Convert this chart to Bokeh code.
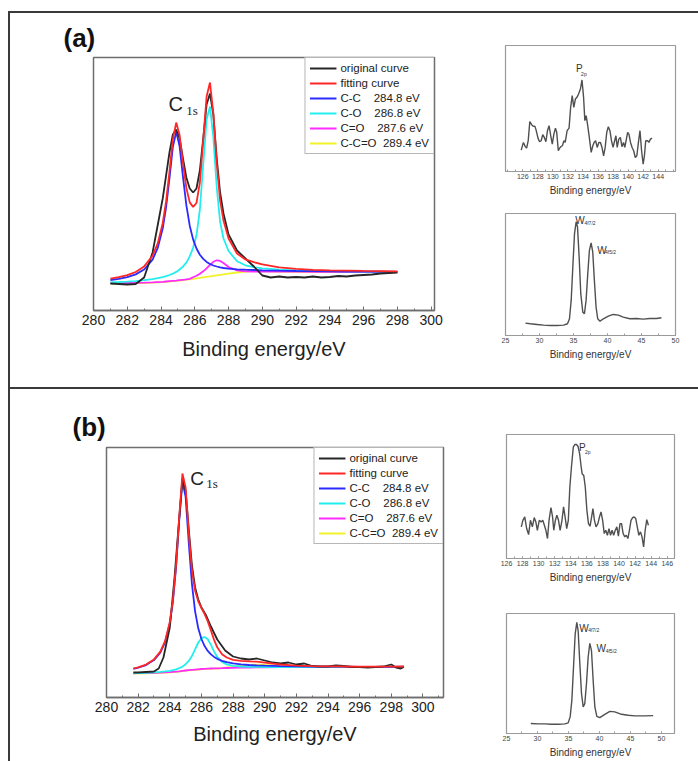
from bokeh.plotting import figure
from bokeh.models import Label, Legend, LegendItem, SingleIntervalTicker, FixedTicker, Range1d, Spacer
from bokeh.layouts import row, column
from bokeh.embed import file_html
from bokeh.resources import INLINE

FONT = "Liberation Sans"
SERIF = "Liberation Serif"

# ---------------- Panel (a): C1s fit ----------------
a_x = [281.0, 281.5, 282.0, 282.5, 283.0, 283.5, 283.8, 284.1, 284.3, 284.5, 284.7, 284.9, 285.1,
       285.3, 285.5, 285.7, 285.9, 286.1, 286.3, 286.5, 286.7, 286.9, 287.1, 287.3, 287.5, 287.7,
       288.0, 288.5, 289.0, 289.5, 290.0, 291.0, 292.0, 293.0, 294.0, 295.0, 296.0, 297.0, 298.0]
a_fit = [31.9, 33.3, 35.3, 38.5, 44.1, 54.8, 66.8, 87.3, 109.1, 139.0, 171.2, 187.9, 175.4, 147.4,
         122.6, 108.1, 103.6, 107.5, 127.8, 170.6, 214.0, 228.0, 197.0, 147.0, 110.1, 90.0, 71.9,
         57.0, 51.1, 48.3, 46.1, 43.2, 41.6, 40.6, 40.2, 39.9, 39.6, 39.4, 39.2]
a_cc = [30.4, 31.6, 33.3, 36.1, 41.0, 50.9, 62.3, 82.0, 103.2, 132.2, 163.4, 178.6, 164.1, 133.6,
        105.3, 84.8, 71.1, 62.0, 55.8, 51.6, 48.6, 46.5, 45.0, 44.0, 43.1, 42.5, 41.9, 41.2, 40.8,
        40.5, 40.2, 39.8, 39.5, 39.3, 39.1, 39.0, 38.9, 38.8, 38.7]
a_co = [28.2, 28.5, 28.9, 29.4, 30.3, 31.4, 32.3, 33.4, 34.3, 35.5, 36.8, 38.6, 41.0, 43.9, 47.8,
        54.2, 62.7, 75.2, 100.7, 146.2, 191.0, 204.0, 172.7, 123.2, 88.6, 72.0, 59.5, 49.2, 45.2,
        43.3, 42.2, 40.9, 40.1, 39.6, 39.3, 39.1, 38.9, 38.8, 38.7]
a_c_eq_o = [27.3, 27.4, 27.5, 27.6, 27.8, 28.1, 28.4, 28.7, 29.0, 29.3, 29.6, 29.9, 30.3, 30.7, 31.1,
            31.6, 33.2, 34.7, 36.7, 39.2, 42.2, 45.7, 48.7, 50.2, 49.6, 47.5, 43.5, 40.2, 39.2, 39.0,
            38.9, 38.8, 38.8, 38.7, 38.7, 38.7, 38.7, 38.7, 38.7]
a_cc_eq_o = [27.0, 27.1, 27.2, 27.3, 27.5, 27.8, 28.1, 28.4, 28.7, 29.0, 29.3, 29.6, 30.0, 30.4, 30.8,
             31.2, 31.7, 32.2, 32.7, 33.2, 33.7, 34.2, 34.7, 35.2, 35.7, 36.2, 36.9, 38.0, 39.0, 39.5,
             39.4, 38.9, 38.7, 38.5, 38.5, 38.5, 38.5, 38.5, 38.5]
a_orig_x = [281.0, 281.5, 282.0, 282.5, 283.0, 283.5, 283.8, 284.1, 284.3, 284.5, 284.7, 284.9, 285.1,
            285.3, 285.5, 285.7, 285.9, 286.1, 286.3, 286.5, 286.7, 286.9, 287.1, 287.3, 287.5, 287.7,
            288.0, 288.5, 289.0, 289.5, 290.0, 290.5, 291.0, 291.5, 292.0, 292.5, 293.0, 293.5, 294.0,
            294.5, 295.0, 295.5, 296.0, 296.5, 297.0, 297.5, 298.0]
a_orig = [27.0, 26.5, 26.0, 26.5, 33.0, 58.0, 85.0, 112.0, 135.0, 158.0, 176.0, 181.0, 172.0, 152.0,
          133.0, 122.0, 118.0, 122.0, 140.0, 172.0, 206.0, 217.0, 196.0, 152.0, 118.0, 97.0, 76.0,
          60.0, 52.0, 44.0, 35.0, 33.0, 34.0, 33.0, 33.5, 33.0, 34.0, 33.0, 33.5, 34.5, 34.0, 35.0,
          35.5, 36.0, 37.0, 37.5, 38.0]

# P2p (a)
a_p_x = [125.79, 126.08, 126.34, 126.51, 126.72, 126.93, 127.18, 127.39, 127.6, 127.77, 128.02, 128.23,
         128.44, 128.65, 128.86, 129.07, 129.28, 129.49, 129.71, 129.92, 130.13, 130.34, 130.51, 130.72,
         130.88, 131.05, 131.26, 131.47, 131.64, 131.89, 132.15, 132.36, 132.57, 132.78, 132.99, 133.2,
         133.41, 133.66, 133.87, 134.08, 134.25, 134.42, 134.63, 134.84, 135.09, 135.31, 135.47, 135.68,
         135.89, 136.11, 136.32, 136.53, 136.74, 136.95, 137.16, 137.37, 137.58, 137.79, 138.0, 138.21,
         138.38, 138.55, 138.76, 138.97, 139.18, 139.39, 139.56, 139.73, 139.94, 140.11, 140.32, 140.53,
         140.74, 140.95, 141.16, 141.37, 141.58, 141.79, 142.0, 142.17, 142.34, 142.59, 142.76, 142.97,
         143.18]
a_p_y = [21.3, 29, 24.7, 23.3, 30.7, 49.7, 46.7, 45, 45.3, 41.3, 33.3, 29.7, 30.7, 36.7, 34, 29.7, 40.7,
         45.7, 35.7, 27.3, 37.3, 43.3, 39, 20.7, 23, 24.7, 25.7, 30.7, 29, 40.7, 43.3, 64, 75.7, 64, 72.3,
         74, 77.3, 82.3, 91.3, 74, 50.7, 55.7, 45.7, 34, 19, 25.7, 29, 30.7, 24, 29, 29, 24, 15.7, 24, 39,
         44.7, 40.7, 30.7, 24, 30.7, 35.7, 24, 32.3, 34, 24.7, 29, 24, 30.7, 39, 37.3, 29, 24, 20.7, 14,
         15.7, 29, 40.7, 20.7, 7.3, 15.7, 30.7, 30.7, 29, 32.3, 33.3]
a_p_ticks = [126, 128, 130, 132, 134, 136, 138, 140, 142, 144]

# W4f (a)
a_w_x = [27.93, 28.66, 29.63, 30.61, 31.59, 32.56, 33.54, 34.12, 34.41, 34.66, 34.9, 35.15, 35.39, 35.59,
         35.83, 36.07, 36.37, 36.61, 36.85, 37.1, 37.34, 37.59, 37.83, 38.07, 38.32, 38.56, 38.9, 39.39,
         40.12, 40.85, 41.59, 42.32, 43.29, 44.27, 45.24, 46.22, 47.2, 47.93]
a_w_y = [12.3, 11.7, 11, 10.3, 10, 10, 10.3, 11.7, 16.7, 35, 68.3, 101.7, 113.3, 108.3, 78.3, 41.7, 23.3,
         21.7, 35, 61.7, 85, 92.3, 83.3, 55, 28.3, 16.7, 14.3, 16.7, 19.3, 21, 20.3, 18.3, 16.7, 17, 16.3,
         17, 17, 17.7]

# ---------------- Panel (b): C1s fit ----------------
b_x = [281.7, 282.0, 282.5, 283.0, 283.4, 283.7, 284.0, 284.2, 284.4, 284.6, 284.8, 285.0, 285.2,
       285.4, 285.6, 285.8, 286.0, 286.2, 286.4, 286.6, 286.8, 287.0, 287.3, 287.6, 288.0, 288.5,
       289.0, 289.5, 290.0, 291.0, 292.0, 293.0, 294.0, 295.0, 296.0, 297.0, 298.0, 298.8]
b_fit = [29.0, 30.2, 32.9, 38.1, 45.9, 56.3, 75.5, 98.0, 133.2, 181.3, 224.0, 210.0, 164.1, 127.4,
         106.7, 96.2, 89.5, 83.4, 76.1, 67.1, 57.6, 50.2, 43.2, 40.0, 37.7, 36.7, 36.2, 35.8, 34.9,
         33.0, 31.9, 31.4, 31.1, 31.0, 30.9, 30.9, 30.9, 31.0]
b_cc = [28.7, 29.8, 32.4, 37.4, 44.9, 55.1, 73.9, 96.0, 130.7, 178.0, 216.0, 200.8, 154.6, 113.4,
        86.2, 69.2, 58.5, 51.4, 46.6, 43.1, 40.6, 38.7, 36.7, 35.3, 34.1, 33.1, 32.5, 32.1, 31.8,
        31.3, 31.1, 30.9, 30.9, 30.8, 30.7, 30.7, 30.7, 30.8]
b_co = [24.3, 24.45, 24.7, 25.2, 25.7, 26.1, 26.7, 27.4, 28.2, 29.3, 30.9, 33.3, 36.6, 41.4, 48.2,
        55.0, 59.3, 60.5, 58.2, 52.8, 45.9, 40.5, 35.6, 33.1, 31.7, 31.0, 30.7, 30.6, 30.5, 30.4,
        30.3, 30.3, 30.3, 30.3, 30.3, 30.4, 30.4, 30.5]
b_c_eq_o = [24.2, 24.3, 24.4, 24.7, 24.9, 25.1, 25.3, 25.6, 25.9, 26.2, 26.6, 27.0, 27.3, 27.6, 27.9,
            28.2, 28.5, 28.7, 28.9, 29.0, 29.1, 29.2, 29.3, 29.5, 29.7, 29.9, 30.0, 30.1, 30.2, 30.3,
            30.4, 30.4, 30.5, 30.5, 30.6, 30.6, 30.7, 30.7]
b_cc_eq_o = [24.0, 24.1, 24.2, 24.5, 24.7, 24.9, 25.1, 25.4, 25.7, 26.0, 26.4, 26.8, 27.1, 27.4, 27.7,
             28.0, 28.3, 28.5, 28.7, 28.8, 28.9, 29.0, 29.3, 30.0, 30.7, 31.8, 32.6, 32.9, 32.6, 31.3,
             30.7, 30.4, 30.3, 30.3, 30.4, 30.4, 30.5, 30.5]
b_orig_x = [281.7, 282.0, 282.5, 283.0, 283.3, 283.6, 284.0, 284.3, 284.6, 284.8, 285.0, 285.2, 285.4,
            285.6, 285.8, 286.0, 286.3, 286.6, 287.0, 287.5, 288.0, 288.5, 289.0, 289.5, 290.0, 290.5,
            291.0, 291.5, 292.0, 292.5, 293.0, 293.5, 294.0, 294.5, 295.0, 295.5, 296.0, 296.5, 297.0,
            297.5, 298.0, 298.3, 298.6, 298.8]
b_orig = [25.0, 25.0, 25.5, 26.0, 29.0, 40.0, 70.0, 120.0, 180.0, 219.0, 207.0, 168.0, 132.0, 110.0,
          98.0, 90.0, 82.0, 71.0, 58.0, 47.0, 41.0, 39.0, 38.0, 39.0, 37.0, 35.0, 34.0, 35.0, 33.0,
          34.0, 31.5, 31.0, 31.0, 32.0, 31.5, 30.5, 30.5, 30.0, 30.5, 31.0, 33.0, 30.0, 29.0, 30.5]

# P2p (b)
b_p_x = [127.84, 128.04, 128.27, 128.51, 128.75, 128.98, 129.22, 129.45, 129.65, 129.84, 130.08, 130.31,
         130.51, 130.71, 130.9, 131.1, 131.29, 131.53, 131.73, 131.88, 132.08, 132.27, 132.47, 132.67,
         132.9, 133.1, 133.29, 133.49, 133.69, 133.88, 134.08, 134.31, 134.51, 134.71, 134.9, 135.1,
         135.29, 135.41, 135.61, 135.8, 136.0, 136.2, 136.39, 136.59, 136.75, 136.94, 137.14, 137.37,
         137.57, 137.76, 137.96, 138.16, 138.35, 138.55, 138.75, 138.94, 139.14, 139.33, 139.53, 139.73,
         139.92, 140.12, 140.31, 140.51, 140.71, 140.9, 141.1, 141.29, 141.49, 141.69, 141.88, 142.08,
         142.27, 142.47, 142.67, 142.86, 143.06, 143.25, 143.45, 143.65]
b_p_y = [31.7, 38.3, 41.7, 30, 24, 38.3, 31.7, 41, 36.7, 28.3, 38.3, 36.7, 38.3, 33.3, 28.3, 20, 38.3, 51,
         41.7, 28.3, 38.3, 43.3, 38.3, 28.3, 38.3, 51.7, 41.7, 30, 38.3, 71.7, 91.7, 111.7, 114.3, 114.3,
         112.3, 105, 91.7, 85, 83.3, 71.7, 48.3, 35, 32.3, 41.7, 50, 38.3, 31.7, 35, 41.7, 46.7, 38.3, 25,
         28.3, 23.3, 30, 23.3, 28.3, 23.3, 28.3, 31.7, 22.3, 35, 35, 25, 21.7, 23.3, 20, 28.3, 38.3, 41,
         41.7, 40, 31.7, 23.3, 26.7, 21.7, 11.7, 28.3, 39, 33.3]

# W4f (b)
b_w_x = [28.92, 30.11, 31.18, 32.26, 33.33, 34.41, 34.95, 35.27, 35.54, 35.81, 36.08, 36.34, 36.56, 36.83,
         37.1, 37.37, 37.63, 37.9, 38.17, 38.44, 38.71, 38.98, 39.25, 39.57, 40.05, 40.86, 41.67, 42.47,
         43.55, 44.62, 45.7, 47.31, 48.66]
b_w_y = [10, 9.7, 9.7, 9.3, 9.3, 9.7, 10.7, 16.7, 33.3, 66.7, 100, 111.7, 103.3, 70, 40, 26.7, 30, 50,
         76.7, 90.7, 83.3, 53.3, 26.7, 17.3, 16, 19.3, 22.3, 21.7, 19.3, 18.3, 17.7, 17.7, 18]

legend_labels = ["original curve", "fitting curve",
                 "C-C\u00a0\u00a0\u00a0\u00a0284.8 eV",
                 "C-O\u00a0\u00a0\u00a0\u00a0286.8 eV",
                 "C=O\u00a0\u00a0\u00a0\u00a0287.6 eV",
                 "C-C=O\u00a0\u00a0289.4 eV"]
curve_colors = ["#262626", "#ff2626", "#2b2bff", "#22eeee", "#ff2bff", "#f2f22a"]
AXIS_LABEL = "Binding energy/eV"


def main_panel(x0, x1, y1, w, h, bl, br, bt, bb, lab_standoff, tag, tag_offset, tag_standoff):
    p = figure(width=w, height=h, x_range=Range1d(x0, x1), y_range=Range1d(0, y1),
               output_backend="svg", toolbar_location=None, y_axis_location=None,
               min_border_left=bl, min_border_right=br, min_border_top=bt, min_border_bottom=bb)
    p.title.text = tag
    p.title.text_font = FONT
    p.title.text_font_size = "26px"
    p.title.text_font_style = "bold"
    p.title.text_color = "#111111"
    p.title.align = "left"
    p.title.offset = tag_offset
    p.title.standoff = tag_standoff
    p.xgrid.visible = False
    p.ygrid.visible = False
    p.outline_line_color = "#6e6e6e"
    p.outline_line_width = 1.5
    p.background_fill_color = "white"
    p.border_fill_color = "white"
    ax = p.xaxis[0]
    ax.ticker = SingleIntervalTicker(interval=2, num_minor_ticks=2)
    ax.major_tick_in = 4
    ax.major_tick_out = 0
    ax.minor_tick_in = 2
    ax.minor_tick_out = 0
    ax.axis_line_color = "#6e6e6e"
    ax.axis_line_width = 1.5
    ax.major_tick_line_color = "#6e6e6e"
    ax.minor_tick_line_color = "#6e6e6e"
    ax.major_label_text_font = FONT
    ax.major_label_text_font_size = "14px"
    ax.major_label_text_color = "#222222"
    ax.major_label_standoff = 4
    ax.axis_label = AXIS_LABEL
    ax.axis_label_text_font = FONT
    ax.axis_label_text_font_size = "20px"
    ax.axis_label_text_font_style = "normal"
    ax.axis_label_text_color = "#222222"
    ax.axis_label_standoff = lab_standoff
    return p


def add_curves(p, xs, orig_x, orig, fit, cc, co, ceo, cceo):
    r_y = p.line(xs, cceo, line_color=curve_colors[5], line_width=1.8)
    r_m = p.line(xs, ceo, line_color=curve_colors[4], line_width=1.8)
    r_c = p.line(xs, co, line_color=curve_colors[3], line_width=1.8)
    r_b = p.line(xs, cc, line_color=curve_colors[2], line_width=1.8)
    r_k = p.line(orig_x, orig, line_color=curve_colors[0], line_width=1.8)
    r_r = p.line(xs, fit, line_color=curve_colors[1], line_width=1.8)
    rends = [r_k, r_r, r_b, r_c, r_m, r_y]
    items = [LegendItem(label=lab, renderers=[r]) for lab, r in zip(legend_labels, rends)]
    leg = Legend(items=items, location="top_right", margin=0, padding=4, spacing=3,
                 label_height=12, glyph_height=12, glyph_width=27, label_standoff=4,
                 label_text_font=FONT, label_text_font_size="11.5px", label_text_color="#222222",
                 border_line_color="#6e6e6e", border_line_width=1.2, background_fill_alpha=1.0)
    p.add_layout(leg)


def small_panel(x0, x1, y1, ticker, w, h, bl, br, bt, bb):
    p = figure(width=w, height=h, x_range=Range1d(x0, x1), y_range=Range1d(0, y1),
               output_backend="svg", toolbar_location=None, y_axis_location=None,
               min_border_left=bl, min_border_right=br, min_border_top=bt, min_border_bottom=bb)
    p.xgrid.visible = False
    p.ygrid.visible = False
    p.outline_line_color = "#9a9a9a"
    p.outline_line_width = 1.2
    ax = p.xaxis[0]
    ax.ticker = ticker
    ax.major_tick_in = 2
    ax.major_tick_out = 0
    ax.minor_tick_in = 2
    ax.minor_tick_out = 0
    ax.axis_line_color = "#9a9a9a"
    ax.axis_line_width = 1.2
    ax.major_tick_line_color = "#9a9a9a"
    ax.minor_tick_line_color = "#9a9a9a"
    ax.major_label_text_font = FONT
    ax.major_label_text_font_size = "7px"
    ax.major_label_text_color = "#444444"
    ax.major_label_standoff = 2
    ax.axis_label = AXIS_LABEL
    ax.axis_label_text_font = FONT
    ax.axis_label_text_font_size = "10px"
    ax.axis_label_text_font_style = "normal"
    ax.axis_label_text_color = "#333333"
    ax.axis_label_standoff = 3
    return p


def lab(p, x, y, text, size, font=FONT, style="normal", color="#222222"):
    p.add_layout(Label(x=x, y=y, text=text, text_font=font, text_font_size=size,
                       text_font_style=style, text_color=color, text_baseline="alphabetic",
                       text_align="left"))


# ----- top half -----
main_a = main_panel(280, 300.2, 253, 480, 374, 83, 56, 44, 77, 10, "(a)", -30, 10)
add_curves(main_a, a_x, a_orig_x, a_orig, a_fit, a_cc, a_co, a_c_eq_o, a_cc_eq_o)
lab(main_a, 284.45, 207, "C", "20px")
lab(main_a, 285.5, 200, "1s", "13px", font=SERIF)

p2p_a_ticker = FixedTicker(ticks=a_p_ticks, minor_ticks=list(range(124, 147)))
p2p_a = small_panel(123.7, 146.3, 125.7, p2p_a_ticker, 200, 187, 15, 6, 32, 29)
p2p_a.line(a_p_x, a_p_y, line_color="#505050", line_width=1.4)
lab(p2p_a, 133.07, 102.3, "P", "10px", color="#333333")
lab(p2p_a, 133.75, 97.3, "2p", "5px", color="#333333")

w_a = small_panel(25, 50, 121.7, SingleIntervalTicker(interval=5, num_minor_ticks=2),
                  200, 187, 15, 15, 13, 52)
w_a.line(a_w_x, a_w_y, line_color="#505050", line_width=1.4)
lab(w_a, 35.24, 114.3, "W", "10px", color="#333333")
lab(w_a, 36.61, 112.3, "4f7/2", "5px", color="#333333")
lab(w_a, 38.51, 85, "W", "10px", color="#333333")
lab(w_a, 39.63, 83, "4f5/2", "5px", color="#333333")

# ----- bottom half -----
main_b = main_panel(280, 301.3, 250, 480, 372, 96, 47, 58, 64, 8, "(b)", -34, 12)
add_curves(main_b, b_x, b_orig_x, b_orig, b_fit, b_cc, b_co, b_c_eq_o, b_cc_eq_o)
lab(main_b, 285.29, 219, "C", "19px")
lab(main_b, 286.3, 214, "1s", "13px", font=SERIF)

p2p_b = small_panel(126, 146.9, 124.3, SingleIntervalTicker(interval=2, num_minor_ticks=2),
                    200, 201, 16, 6, 45, 32)
p2p_b.line(b_p_x, b_p_y, line_color="#505050", line_width=1.4)
lab(p2p_b, 135.02, 111.7, "P", "10px", color="#333333")
lab(p2p_b, 135.76, 106.7, "2p", "5px", color="#333333")

w_b = small_panel(25, 52.1, 120.7, SingleIntervalTicker(interval=5, num_minor_ticks=2),
                  200, 171, 16, 16, 23, 28)
w_b.line(b_w_x, b_w_y, line_color="#505050", line_width=1.4)
lab(w_b, 36.75, 106, "W", "10px", color="#333333")
lab(w_b, 38.17, 104, "4f7/2", "5px", color="#333333")
lab(w_b, 39.5, 85, "W", "10px", color="#333333")
lab(w_b, 41.0, 83.3, "4f5/2", "5px", color="#333333")

LINE = {"background-color": "#3a3a3a"}
top_row = row(main_a, column(p2p_a, w_a))
bottom_row = row(main_b, column(p2p_b, w_b))
content = column(Spacer(width=688, height=2, styles=LINE), top_row,
                 Spacer(width=688, height=2, styles=LINE), bottom_row)
root = column(Spacer(width=698, height=11),
              row(Spacer(width=8, height=750), Spacer(width=2, height=750, styles=LINE), content))

open("out.html", "w").write(file_html(root, INLINE))
